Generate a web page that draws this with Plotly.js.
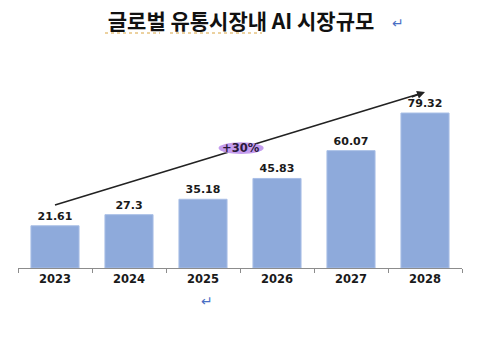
<!DOCTYPE html>
<html>
<head>
<meta charset="utf-8">
<script src="https://cdn.plot.ly/plotly-3.0.1.min.js"></script>
<style>html,body{margin:0;padding:0;background:#fff;}#chart{width:483px;height:353px;}</style>
</head>
<body>
<div id="chart"></div>
<script>
const years = ['2023', '2024', '2025', '2026', '2027', '2028'];
const marketSize = [21.61, 27.3, 35.18, 45.83, 60.07, 79.32];
const valueLabels = ['21.61', '27.3', '35.18', '45.83', '60.07', '79.32'];
const growthLabel = '+30%';
const titleText = '글로벌 유통시장내 AI 시장규모';

const trace = {
  type: 'bar',
  x: years,
  y: marketSize,
  text: valueLabels,
  textposition: 'outside',
  cliponaxis: false,
  textfont: {family: 'DejaVu Sans', size: 11, color: '#1a1a1a', weight: 'bold'},
  marker: {color: '#8eaadb', line: {color: '#a9bfe6', width: 1}},
  hoverinfo: 'skip'
};

const ul = (353 - 85 - 33) / 228;

const layout = {
  width: 483, height: 353,
  margin: {l: 18, r: 21, t: 40, b: 85},
  paper_bgcolor: '#ffffff', plot_bgcolor: '#ffffff',
  showlegend: false,
  bargap: 0.35,
  font: {family: 'DejaVu Sans', color: '#1a1a1a'},
  title: {
    text: titleText,
    font: {family: 'Noto Sans CJK KR', size: 21, color: '#111111', weight: 'bold'},
    xref: 'container', yref: 'container', x: 0.499, y: 0.94,
    xanchor: 'center', yanchor: 'middle'
  },
  xaxis: {
    type: 'category',
    range: [-0.5, 5.5],
    showline: true, linecolor: '#8c8c8c', linewidth: 1,
    ticks: 'outside', tickson: 'boundaries', ticklen: 4, tickcolor: '#8c8c8c',
    tickfont: {family: 'DejaVu Sans', size: 11.5, color: '#1a1a1a', weight: 'bold'},
    showgrid: false, zeroline: false, fixedrange: true
  },
  yaxis: {
    range: [0, 116.7],
    visible: false, showgrid: false, zeroline: false, fixedrange: true
  },
  shapes: [
    {type: 'line', xref: 'x', yref: 'y', x0: 0, y0: 32.2, x1: 4.93, y1: 89.2,
     line: {color: '#222222', width: 1.6}, layer: 'above'},
    {type: 'circle', xref: 'x', yref: 'y', x0: 2.21, x1: 2.82, y0: 58.4, y1: 64.4,
     fillcolor: '#c49cee', line: {width: 0}, layer: 'above'},
    {type: 'line', xref: 'paper', yref: 'paper', x0: (105-18)/444, x1: (160-18)/444,
     y0: ul, y1: ul, line: {color: '#d9a441', width: 1, dash: 'dot'}},
    {type: 'line', xref: 'paper', yref: 'paper', x0: (170-18)/444, x1: (262-18)/444,
     y0: ul, y1: ul, line: {color: '#d9a441', width: 1, dash: 'dot'}}
  ],
  annotations: [
    {xref: 'x', yref: 'y', axref: 'x', ayref: 'y',
     x: 5, y: 90.1, ax: 4.8, ay: 87.3, text: '', showarrow: true,
     arrowhead: 2, arrowsize: 1, arrowwidth: 1.6, arrowcolor: '#222222'},
    {xref: 'x', yref: 'y', x: 2.515, y: 61.4, text: '<b>' + growthLabel + '</b>', showarrow: false,
     xanchor: 'center', yanchor: 'middle',
     font: {family: 'DejaVu Sans', size: 11.5, color: '#2a1a3a'}},
    {xref: 'paper', yref: 'paper', x: (398-18)/444, y: (353-85-23)/228, text: '↵', showarrow: false,
     xanchor: 'center', yanchor: 'middle',
     font: {family: 'DejaVu Sans', size: 14, color: '#4a6fc4'}},
    {xref: 'paper', yref: 'paper', x: (207-18)/444, y: (353-85-301)/228, text: '↵', showarrow: false,
     xanchor: 'center', yanchor: 'middle',
     font: {family: 'DejaVu Sans', size: 14, color: '#4a6fc4'}}
  ]
};

Plotly.newPlot('chart', [trace], layout, {displayModeBar: false, staticPlot: true});
</script>
</body>
</html>
